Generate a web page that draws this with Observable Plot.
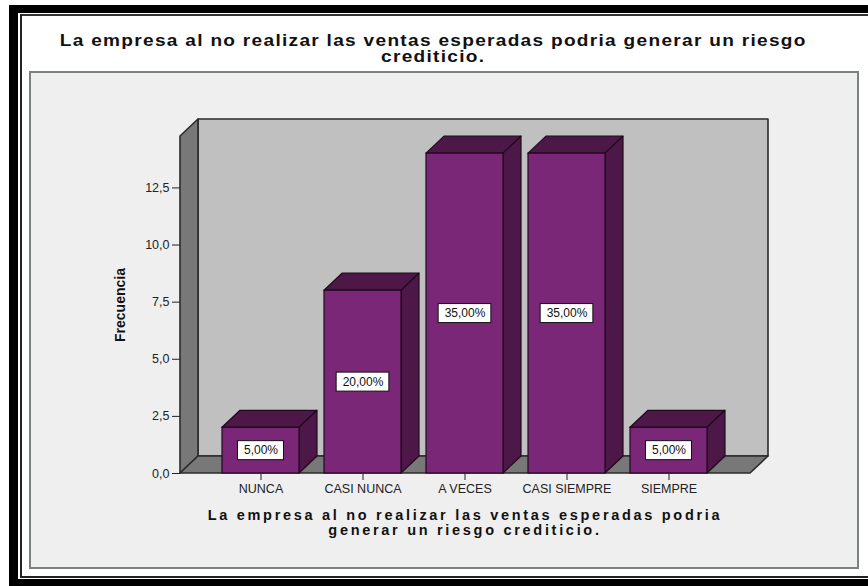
<!DOCTYPE html>
<html>
<head>
<meta charset="utf-8">
<script src="https://cdn.jsdelivr.net/npm/d3@7"></script>
<script src="https://cdn.jsdelivr.net/npm/@observablehq/plot@0.6"></script>
<style>
  body { margin: 0; background: #ffffff; font-family: "Liberation Sans", Arial, sans-serif; }
  #page { position: relative; width: 868px; height: 586px; overflow: hidden; background: #ffffff; }
  .abs { position: absolute; }
  #title { left: 0; top: 33px; width: 868px; text-align: center; font-weight: bold; font-size: 16px; line-height: 16px; color: #111; letter-spacing: 1.1px; transform: scaleX(1.19); transform-origin: 438px 0; }
  #xtitle { left: 150px; top: 508px; width: 630px; text-align: center; font-weight: bold; font-size: 14.5px; line-height: 15px; color: #111; letter-spacing: 2.7px; }
  #chart { left: 0; top: 0; }
</style>
</head>
<body>
<div id="page">
  <div class="abs" style="left:9px;top:5px;width:859px;height:8px;background:#000"></div>
  <div class="abs" style="left:9px;top:5px;width:9px;height:581px;background:#000"></div>
  <div class="abs" style="left:9px;top:579px;width:859px;height:7px;background:#000"></div>
  <div class="abs" style="left:20px;top:14px;width:848px;height:2px;background:#333"></div>
  <div class="abs" style="left:20px;top:14px;width:2px;height:564px;background:#222"></div>
  <div class="abs" style="left:20px;top:576px;width:848px;height:2px;background:#222"></div>
  <div class="abs" style="left:29px;top:71px;width:826px;height:494px;background:#efefef;border:2px solid #7b8080"></div>
  <div id="title" class="abs">La empresa al no realizar las ventas esperadas podria generar un riesgo<br>crediticio.</div>
  <div id="chart" class="abs"></div>
  <div id="xtitle" class="abs">La empresa al no realizar las ventas esperadas podria<br>generar un riesgo crediticio.</div>
</div>
<script>
// ---- data ----
const categories = ["NUNCA", "CASI NUNCA", "A VECES", "CASI SIEMPRE", "SIEMPRE"];
const frequencies = [2, 8, 14, 14, 2];
const percentLabels = ["5,00%", "20,00%", "35,00%", "35,00%", "5,00%"];
const yTicks = [0, 2.5, 5, 7.5, 10, 12.5];
const yTickLabels = ["0,0", "2,5", "5,0", "7,5", "10,0", "12,5"];
const yMax = 14.75;
const yLabel = "Frecuencia";

const data = categories.map((c, i) => ({cat: c, freq: frequencies[i], pct: percentLabels[i]}));

// ---- styles ----
const DX = 18, DY = 17;
const frontFill = "#7b2778", darkFill = "#4d1747", barEdge = "#1f0a1d";
const wallBack = "#c0c0c0", wallSide = "#787878", wallEdge = "#2b2b2b";

function bandwidthOf(x) { return typeof x.bandwidth === "function" ? x.bandwidth() : x.bandwidth; }

function walls(index, scales) {
  const x = scales.x, y = scales.y;
  const [xa, xb] = x.range();
  const y0 = y(0), yt = y(y.domain()[1]);
  const g = d3.create("svg:g").attr("stroke", wallEdge).attr("stroke-width", 1.6).attr("stroke-linejoin", "round");
  g.append("polygon").attr("fill", wallBack)
    .attr("points", [[xa + DX, yt - DY], [xb + DX, yt - DY], [xb + DX, y0 - DY], [xa + DX, y0 - DY]].join(" "));
  g.append("polygon").attr("fill", wallSide)
    .attr("points", [[xa, y0], [xa, yt], [xa + DX, yt - DY], [xa + DX, y0 - DY]].join(" "));
  g.append("polygon").attr("fill", wallSide)
    .attr("points", [[xa, y0], [xa + DX, y0 - DY], [xb + DX, y0 - DY], [xb, y0]].join(" "));
  return g.node();
}

function bar3d(index, scales) {
  const x = scales.x, y = scales.y;
  const bw = bandwidthOf(x);
  const g = d3.create("svg:g").attr("fill", darkFill).attr("stroke", barEdge).attr("stroke-width", 1.2).attr("stroke-linejoin", "round");
  data.forEach(d => {
    const x0 = x(d.cat), x1 = x0 + bw, yt = y(d.freq), yb = y(0);
    g.append("polygon").attr("points", [[x0, yt], [x0 + DX, yt - DY], [x1 + DX, yt - DY], [x1, yt]].join(" "));
    g.append("polygon").attr("points", [[x1, yt], [x1 + DX, yt - DY], [x1 + DX, yb - DY], [x1, yb]].join(" "));
  });
  return g.node();
}

const measureCtx = document.createElement("canvas").getContext("2d");
measureCtx.font = "12px 'Liberation Sans'";
function labelBoxes(index, scales) {
  const x = scales.x, y = scales.y;
  const bw = bandwidthOf(x);
  const g = d3.create("svg:g").attr("fill", "#ffffff").attr("stroke", "#111").attr("stroke-width", 1);
  data.forEach(d => {
    const cx = x(d.cat) + bw / 2, cy = y(d.freq / 2);
    const w = measureCtx.measureText(d.pct).width + 12, h = 19;
    g.append("rect").attr("x", cx - w / 2).attr("y", cy - h / 2).attr("width", w).attr("height", h);
  });
  return g.node();
}

const chart = Plot.plot({
  width: 868,
  height: 586,
  marginLeft: 180,
  marginRight: 118,
  marginTop: 136,
  marginBottom: 113,
  style: {background: "transparent", fontFamily: "'Liberation Sans', Arial, sans-serif", fontSize: "12.5px", color: "#222", overflow: "visible"},
  x: {domain: categories, paddingInner: 0.244, paddingOuter: 0.4025, label: null, tickSize: 7, tickPadding: 4},
  y: {domain: [0, yMax], ticks: yTicks, tickFormat: v => yTickLabels[yTicks.indexOf(v)], label: null, tickSize: 8, tickPadding: 3},
  marks: [
    walls,
    bar3d,
    Plot.barY(data, {x: "cat", y: "freq", fill: frontFill, stroke: barEdge, strokeWidth: 1.2}),
    labelBoxes,
    Plot.text(data, {x: "cat", y: d => d.freq / 2, text: "pct", fill: "#111", fontSize: 12}),
    Plot.text([yLabel], {frameAnchor: "left", dx: -60, rotate: -90, textAnchor: "middle", text: d => d, fontWeight: "bold", fontSize: 14, fill: "#111"})
  ]
});
document.getElementById("chart").appendChild(chart);
</script>
</body>
</html>
